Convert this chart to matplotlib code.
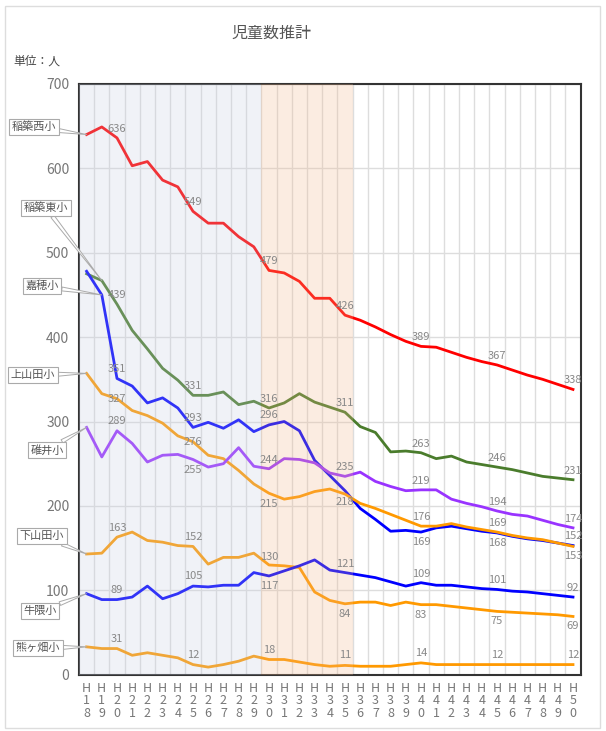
import matplotlib
matplotlib.use('Agg')
import matplotlib.pyplot as plt
from matplotlib.patches import Rectangle

plt.rcParams['font.family'] = ['Noto Sans CJK JP', 'DejaVu Sans']

# data (people per year, H18 - H50)
years = ['H%d' % y for y in range(18, 51)]
schools = ['稲築西小', '稲築東小', '嘉穂小', '上山田小', '碓井小', '下山田小', '牛隈小', '熊ヶ畑小']

inatsuki_nishi = [640, 649, 636, 603, 608, 586, 578, 549, 535, 535, 519, 507, 479, 476, 466, 446, 446,
                  426, 420, 412, 403, 395, 389, 388, 382, 376, 371, 367, 361, 355, 350, 344, 338]
inatsuki_higashi = [475, 467, 439, 408, 386, 363, 349, 331, 331, 335, 320, 324, 316, 322, 333, 323, 317,
                    311, 294, 287, 264, 265, 263, 256, 259, 252, 249, 246, 243, 239, 235, 233, 231]
kaho = [478, 450, 351, 342, 322, 328, 316, 293, 299, 292, 302, 288, 296, 300, 289, 254, 236,
        218, 197, 184, 170, 171, 169, 174, 176, 173, 170, 168, 164, 161, 159, 156, 153]
kamiyamada = [357, 333, 327, 313, 307, 298, 283, 276, 260, 256, 242, 226, 215, 208, 211, 217, 220,
              214, 203, 197, 190, 183, 176, 176, 179, 175, 172, 169, 165, 162, 160, 156, 152]
usui = [293, 258, 289, 274, 252, 260, 261, 255, 246, 250, 269, 247, 244, 256, 255, 251, 239,
        235, 240, 229, 223, 218, 219, 219, 208, 203, 199, 194, 190, 188, 183, 178, 174]
shimoyamada = [143, 144, 163, 169, 159, 157, 153, 152, 131, 139, 139, 144, 130, 129, 127, 98, 88,
               84, 86, 86, 82, 86, 83, 83, 81, 79, 77, 75, 74, 73, 72, 71, 69]
ushikuma = [96, 89, 89, 92, 105, 90, 96, 105, 104, 106, 106, 121, 117, 123, 129, 136, 124,
            121, 118, 115, 110, 105, 109, 106, 106, 104, 102, 101, 99, 98, 96, 94, 92]
kumagahata = [33, 31, 31, 23, 26, 23, 20, 12, 9, 12, 16, 22, 18, 18, 15, 12, 10,
              11, 10, 10, 10, 12, 14, 12, 12, 12, 12, 12, 12, 12, 12, 12, 12]

series = [inatsuki_nishi, inatsuki_higashi, kaho, kamiyamada, usui, shimoyamada, ushikuma, kumagahata]
colors = ['#ff0000', '#4a7c2c', '#0000ff', '#ff9900', '#9933ff', '#ff9900', '#0000ff', '#ff9900']

# value labels every 5 years (H20, H25, ... H50); offset in px, None = hidden
label_idx = [2, 7, 12, 17, 22, 27, 32]
label_off = [
    [9, 9, 9, 9, 9, 9, 9],
    [9, 9, 9, 9, 9, 9, 9],
    [9, 9, 10, -11, -10, -10, -10],
    [0, 0, -11, None, 9, 9, 10],
    [10, -11, 9, 9, 9, 9, 9],
    [9, 9, 8, -10, -10, -10, -10],
    [10, 10, -10, 9, 9, 9, 9],
    [10, 10, 10, 10, 10, 10, 10],
]

# name boxes (figure pixels from top-left) and index of point they point to
box_pos = [(34, 127), (46, 208), (42, 286), (33, 375), (47, 450), (42, 536), (40, 611), (38, 648)]
box_pt = [0, 1, 1, 0, 0, 0, 0, 0]

W, H = 606, 731
fig = plt.figure(figsize=(W / 100, H / 100), dpi=100)
ax = fig.add_axes([79 / W, 1 - 674.7 / H, (580.6 - 79) / W, (674.7 - 83.9) / H])

x = list(range(len(years)))
for vals, c in zip(series, colors):
    ax.plot(x, vals, color=c, lw=2.0, zorder=3, solid_joinstyle='round')

# shaded periods (drawn over the lines, semi transparent)
ax.axvspan(-0.5, 11.5, color='#c7cfe3', alpha=0.25, lw=0, zorder=4)
ax.axvspan(11.5, 17.5, color='#f3b78b', alpha=0.25, lw=0, zorder=4)

for vals, offs in zip(series, label_off):
    for i, o in zip(label_idx, offs):
        if o is None:
            continue
        ax.annotate(str(vals[i]), (i, vals[i]), xytext=(0, o * 0.72), textcoords='offset points',
                    ha='center', va='center', fontsize=8, color='#888888', zorder=6)

for name, vals, (bx, by), pi in zip(schools, series, box_pos, box_pt):
    ax.annotate(name, (pi, vals[pi]), xytext=(bx, H - by), textcoords='figure pixels',
                ha='center', va='center', fontsize=8, color='#555555', zorder=7,
                annotation_clip=False,
                bbox=dict(boxstyle='square,pad=0.25', fc='white', ec='#aaaaaa', lw=0.8),
                arrowprops=dict(arrowstyle='wedge,tail_width=0.35', fc='white', ec='#aaaaaa',
                                lw=0.7, shrinkA=0, shrinkB=0))

ax.set_xlim(-0.5, len(years) - 0.5)
ax.set_ylim(0, 700)
ax.set_yticks(range(0, 701, 100))
ax.set_xticks(x)
ax.set_xticklabels(['\n'.join(y) for y in years], linespacing=0.95)
ax.set_xticks([i + 0.5 for i in range(len(years) - 1)], minor=True)
ax.tick_params(axis='both', which='both', length=0, colors='#777777')
ax.tick_params(axis='y', labelsize=10, pad=7)
ax.tick_params(axis='x', labelsize=9, pad=5)
ax.grid(axis='y', which='major', color='#dddddd', lw=1, zorder=1)
ax.grid(axis='x', which='minor', color='#dddddd', lw=1, zorder=1)
ax.set_axisbelow(True)
for s in ax.spines.values():
    s.set_color('#333333')
    s.set_linewidth(1.5)

fig.text(271 / W, 1 - 33 / H, '児童数推計', ha='center', va='center', fontsize=11.5, color='#555555')
fig.text(13 / W, 1 - 61 / H, '単位：人', ha='left', va='center', fontsize=8.5, color='#444444')
fig.patches.append(Rectangle((5 / W, 3 / H), 595 / W, 722 / H, transform=fig.transFigure,
                             fill=False, ec='#dddddd', lw=1))

fig.savefig('out.png', dpi=100)
